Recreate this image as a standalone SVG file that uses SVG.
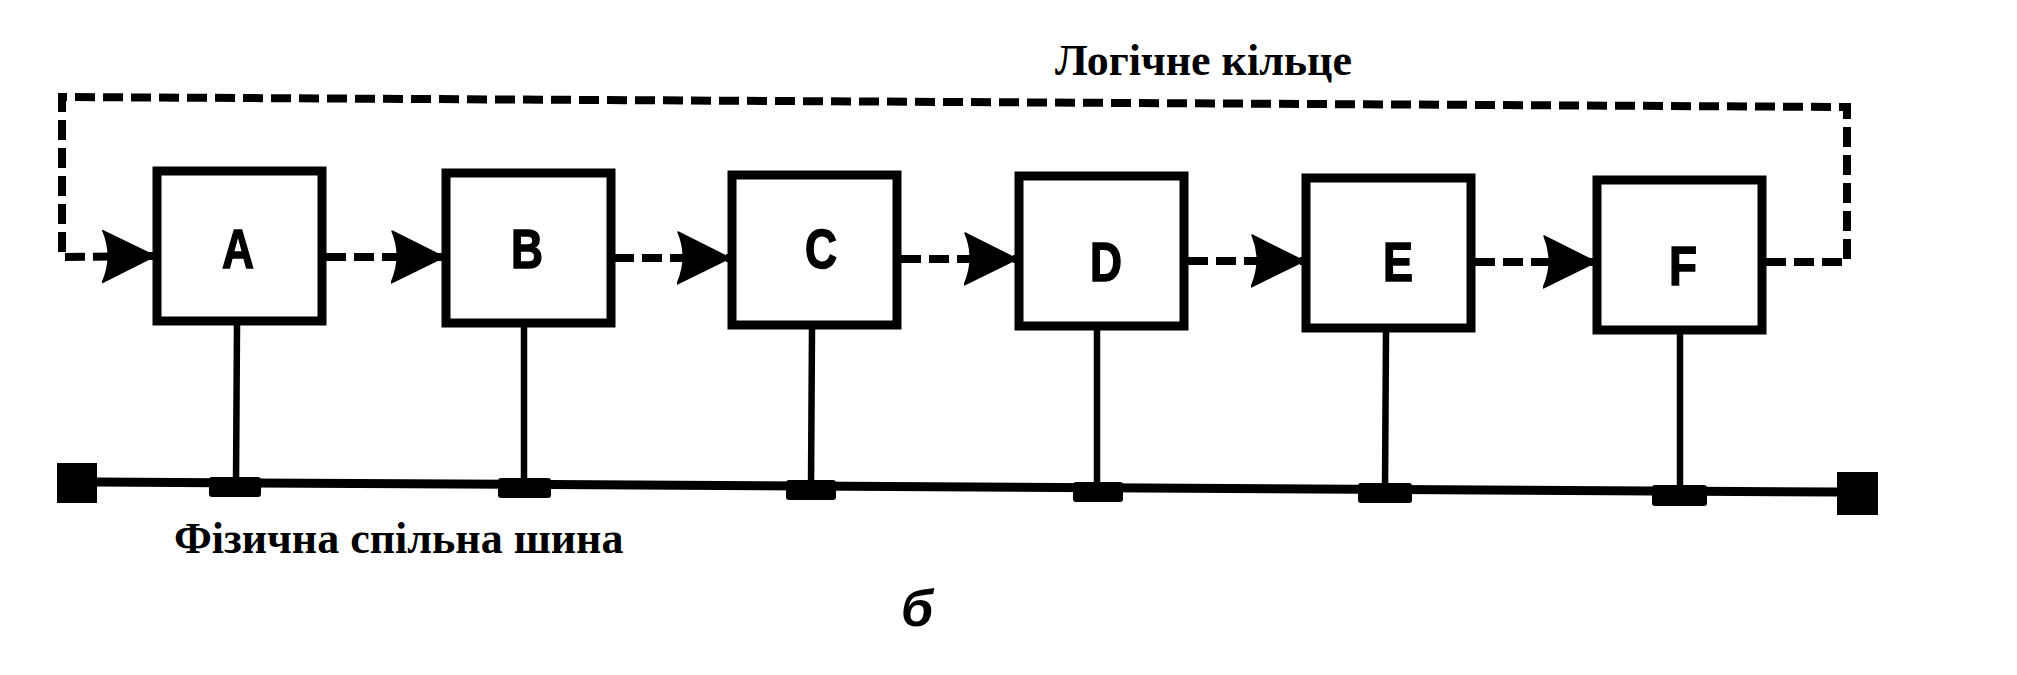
<svg xmlns="http://www.w3.org/2000/svg" width="2017" height="675" viewBox="0 0 2017 675">
  <style>
    .box { fill: #fff; stroke: #000; stroke-width: 9; }
    .lbl { font-family: "Liberation Sans", Arial, sans-serif; font-weight: bold; font-size: 56px; fill: #000; stroke: #000; stroke-width: 1.5; text-anchor: middle; }
    .cap { font-family: "Liberation Serif", "Times New Roman", serif; font-weight: bold; font-style: normal; font-size: 44px; fill: #000; }
    .ring { fill: none; stroke: #000; stroke-width: 8; stroke-dasharray: 20 8; }
    .drop { fill: none; stroke: #000; stroke-width: 6.5; }
    .bus { fill: none; stroke: #000; stroke-width: 9; }
    .tap { fill: #000; }
  </style>
  <defs>
    <marker id="arr" markerUnits="userSpaceOnUse" markerWidth="58" markerHeight="58" viewBox="0 -29 58 58" refX="52" refY="0" orient="auto">
      <path d="M53,0 L1,-26 Q12,0 0,26 Z" fill="#000" stroke="#000" stroke-width="1.5" stroke-linejoin="round"/>
    </marker>
  </defs>
  <rect width="2017" height="675" fill="#fff"/>

  <g id="bus">
    <path class="bus" d="M97,482 L1837,492"/>
    <rect x="57" y="463" width="40" height="40" fill="#000"/>
    <rect x="1837" y="472" width="41" height="43" fill="#000"/>
    <rect class="tap" x="209" y="477" width="52" height="20" rx="3"/>
    <rect class="tap" x="498" y="478" width="53" height="20" rx="3"/>
    <rect class="tap" x="786" y="480" width="50" height="20" rx="3"/>
    <rect class="tap" x="1073" y="482" width="50" height="20" rx="3"/>
    <rect class="tap" x="1358" y="483" width="54" height="20" rx="3"/>
    <rect class="tap" x="1652" y="485" width="55" height="21" rx="3"/>
  </g>

  <g id="connectors">
    <path class="drop" d="M237,325 L236,483"/>
    <path class="drop" d="M524,327 L524,485"/>
    <path class="drop" d="M812,329 L811,486"/>
    <path class="drop" d="M1097,330 L1097,488"/>
    <path class="drop" d="M1386,332 L1385,489"/>
    <path class="drop" d="M1680,334 L1680,491"/>
    <path class="ring" d="M1766,262 L1847,262 L1847,107 L62,97 L62,257 L154,256" marker-end="url(#arr)"/>
    <path class="ring" d="M326,257 L443,257" marker-end="url(#arr)"/>
    <path class="ring" d="M614,258 L729,258" marker-end="url(#arr)"/>
    <path class="ring" d="M901,259 L1016,259" marker-end="url(#arr)"/>
    <path class="ring" d="M1188,261 L1303,261" marker-end="url(#arr)"/>
    <path class="ring" d="M1475,262 L1595,262" marker-end="url(#arr)"/>
  </g>

  <g id="node-A">
    <rect class="box" x="157" y="171" width="165" height="150"/>
    <text class="lbl" x="238" y="268" textLength="32" lengthAdjust="spacingAndGlyphs">A</text>
  </g>
  <g id="node-B">
    <rect class="box" x="446" y="173" width="165" height="150"/>
    <text class="lbl" x="527" y="268" textLength="32" lengthAdjust="spacingAndGlyphs">B</text>
  </g>
  <g id="node-C">
    <rect class="box" x="732" y="175" width="165" height="150"/>
    <text class="lbl" x="821" y="268" textLength="32" lengthAdjust="spacingAndGlyphs">C</text>
  </g>
  <g id="node-D">
    <rect class="box" x="1019" y="176" width="165" height="150"/>
    <text class="lbl" x="1106" y="281" textLength="32" lengthAdjust="spacingAndGlyphs">D</text>
  </g>
  <g id="node-E">
    <rect class="box" x="1306" y="178" width="165" height="150"/>
    <text class="lbl" x="1398" y="281" textLength="30" lengthAdjust="spacingAndGlyphs">E</text>
  </g>
  <g id="node-F">
    <rect class="box" x="1597" y="180" width="165" height="150"/>
    <text class="lbl" x="1683" y="285" textLength="28" lengthAdjust="spacingAndGlyphs">F</text>
  </g>

  <text class="cap" x="1055" y="75">Логічне кільце</text>
  <text class="cap" x="174" y="553">Фізична спільна шина</text>
  <text x="917" y="626" font-family="Liberation Sans, Arial, sans-serif" font-weight="bold" font-style="italic" font-size="52" text-anchor="middle" fill="#000">б</text>
</svg>
